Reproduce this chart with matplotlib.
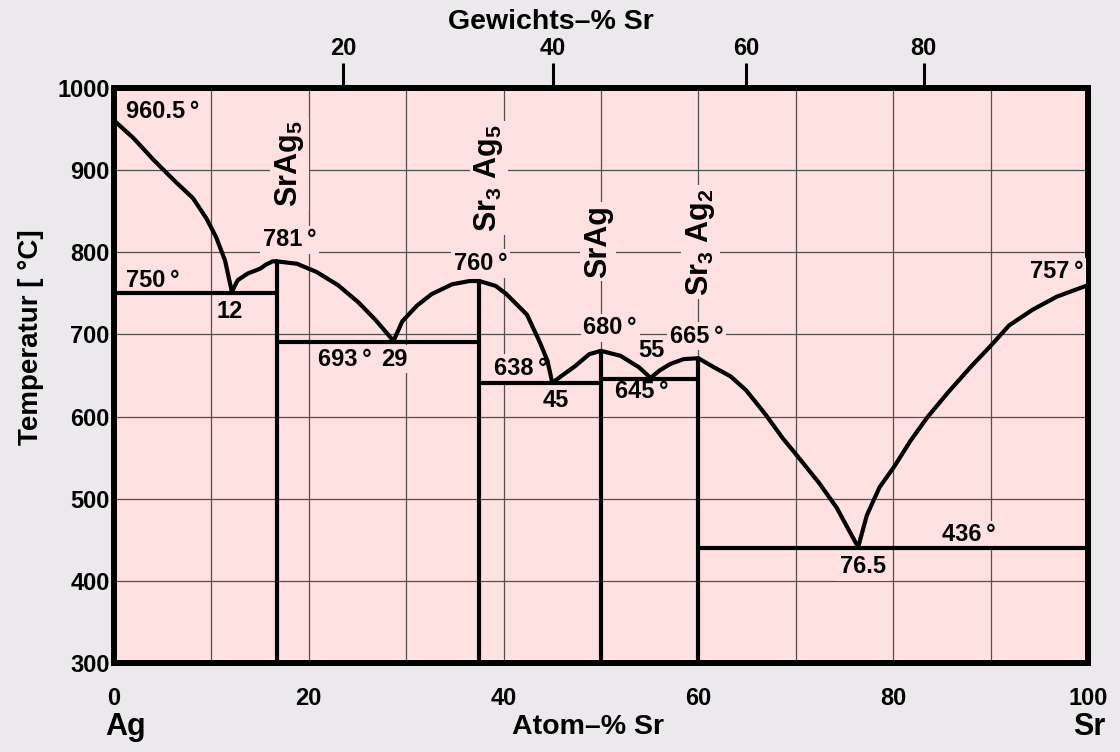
import numpy as np
import matplotlib
matplotlib.use("Agg")
import matplotlib.pyplot as plt

FONT = ["Liberation Sans", "DejaVu Sans"]
plt.rcParams.update({"font.family": FONT, "font.weight": "bold",
                     "mathtext.fontset": "custom", "mathtext.rm": "Liberation Sans:bold",
                     "mathtext.bf": "Liberation Sans:bold", "mathtext.default": "bf"})

BG, PINK, GRID = "#ebe9ec", "#ffe1e1", "#505050"
M_SR, M_AG = 87.62, 107.87

# ── liquidus branches (atom-% Sr, °C) ─────────────────────────────────────
liq_x = [
    [0, 2.0, 4.1, 6.3, 8.1, 9.5, 10.5, 11.4, 12.1],
    [12.1, 12.7, 13.7, 15.0, 15.6, 16.3, 16.7],
    [16.7, 18.8, 20.8, 23.0, 25.1, 26.9, 28.7],
    [28.7, 29.6, 31.1, 32.6, 34.7, 36.5, 37.5],
    [37.5, 39.2, 40.3, 42.4, 43.7, 44.5, 45.0],
    [45.0, 46.0, 47.3, 48.8, 50],
    [50, 52.0, 53.9, 55.1],
    [55.1, 56.0, 57.1, 58.5, 60],
    [60, 61.6, 63.3, 64.9, 66.8, 68.7, 70.3, 72.4, 74.2, 76.4],
    [76.4, 77.3, 78.6, 80.1, 81.8, 83.5, 85.6, 88.0, 90.0, 91.9, 94.3, 96.8, 100],
]
liq_t = [
    [960.5, 939, 912, 886, 866, 841, 818, 790, 752],
    [752, 766, 774, 780, 785, 789, 789],
    [789, 786, 776, 760, 739, 717, 692],
    [692, 716, 735, 749, 761, 765, 765],
    [765, 759, 749, 724, 691, 668, 641],
    [641, 650, 661, 676, 680],
    [680, 674, 660, 647],
    [647, 656, 664, 670, 671],
    [671, 660, 649, 632, 604, 573, 550, 519, 489, 441],
    [441, 480, 514, 539, 571, 599, 629, 661, 686, 711, 730, 746, 760],
]
# eutectic horizontals
eut_x0 = [0, 16.7, 37.5, 50, 60]
eut_x1 = [16.7, 37.5, 50, 60, 100]
eut_t = [751, 691, 641, 646, 440]
# intermetallic compounds
comp_x = [16.7, 37.5, 50, 60]
comp_t = [789, 765, 680, 671]
comp_lab = ["SrAg$_5$", "Sr$_3$ Ag$_5$", "SrAg", "Sr$_3$ Ag$_2$"]
comp_lx = [18.0, 38.5, 49.7, 60.2]
comp_ly = [855, 825, 769, 747]
# annotations
ann_txt = ["960.5\u2009°", "750\u2009°", "781\u2009°", "693\u2009°", "29", "760\u2009°",
           "638\u2009°", "45", "680\u2009°", "55", "665\u2009°", "645\u2009°", "436\u2009°", "757\u2009°"]
ann_x = [1.2, 1.2, 15.3, 20.9, 27.4, 34.9, 39.0, 44.0, 48.2, 53.8, 57.1, 51.4, 85.0, 94.0]
ann_y = [971, 766, 815, 670, 670, 786, 659, 620, 708, 680, 698, 631, 456, 776]
ann_c_txt = ["12", "76.5"]
ann_c_x = [11.9, 76.9]
ann_c_y = [728, 417]

wt_ticks = [20, 40, 60, 80]


def at2wt(a):
    a = np.asarray(a, float)
    return 100 * a * M_SR / (a * M_SR + (100 - a) * M_AG)


def wt2at(w):
    w = np.asarray(w, float)
    return 100 * (w / M_SR) / (w / M_SR + (100 - w) / M_AG)


fig = plt.figure(figsize=(11.2, 7.52), dpi=100, facecolor=BG)
ax = fig.add_axes([114 / 1120, 1 - 663 / 752, 974 / 1120, 575 / 752], facecolor=PINK)
ax.set_xlim(0, 100); ax.set_ylim(300, 1000)
ax.set_axisbelow(True)

for xs, ts in zip(liq_x, liq_t):
    ax.plot(xs, ts, color="black", lw=3.0, solid_joinstyle="round", solid_capstyle="round", zorder=4)
for x0, x1, t in zip(eut_x0, eut_x1, eut_t):
    ax.plot([x0, x1], [t, t], color="black", lw=3.0, zorder=4, solid_capstyle="butt")
for x, t in zip(comp_x, comp_t):
    ax.plot([x, x], [300, t], color="black", lw=3.0, zorder=4, solid_capstyle="butt")

box = dict(fc=PINK, ec="none", pad=2)
for s, x, y in zip(ann_txt, ann_x, ann_y):
    ax.text(x, y, s, fontsize=17, ha="left", va="center", bbox=box, zorder=3)
for s, x, y in zip(ann_c_txt, ann_c_x, ann_c_y):
    ax.text(x, y, s, fontsize=17, ha="center", va="center", bbox=box, zorder=3)
for s, x, y in zip(comp_lab, comp_lx, comp_ly):
    ax.text(x, y, s, fontsize=22, rotation=90, ha="center", va="bottom", bbox=box, zorder=3)

# axes, ticks, grid
ax.set_xticks(np.arange(0, 101, 20))
ax.set_xticks(np.arange(0, 101, 10), minor=True)
ax.set_yticks(np.arange(300, 1001, 100))
ax.grid(True, which="both", color=GRID, lw=0.9)
ax.tick_params(axis="x", which="both", length=0, pad=17, labelsize=17)
ax.tick_params(axis="y", length=0, pad=3, labelsize=17)
for sp in ax.spines.values():
    sp.set_linewidth(4.3)

top = ax.secondary_xaxis("top", functions=(at2wt, wt2at))
top.set_xticks(wt_ticks)
top.tick_params(length=18, width=2.2, pad=2, labelsize=17)
top.spines["top"].set_visible(False)

fig.text(551 / 1120, 1 - 22 / 752, "Gewichts–% Sr", fontsize=20.5, ha="center", va="center")
fig.text(588 / 1120, 1 - 727 / 752, "Atom–% Sr", fontsize=20.5, ha="center", va="center")
fig.text(105 / 1120, 1 - 727 / 752, "Ag", fontsize=22, ha="left", va="center")
fig.text(1105 / 1120, 1 - 727 / 752, "Sr", fontsize=22, ha="right", va="center")
fig.text(31 / 1120, 1 - 337 / 752, "Temperatur [ °C]", fontsize=20, rotation=90, ha="center", va="center")

fig.savefig("out.png", dpi=100, facecolor=BG)
